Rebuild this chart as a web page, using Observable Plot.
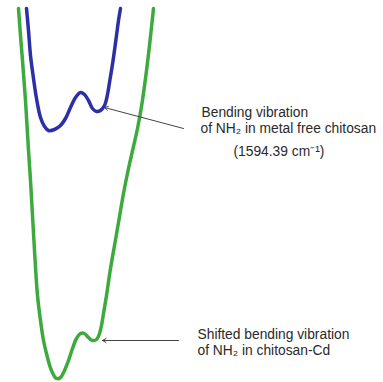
<!DOCTYPE html>
<html>
<head>
<meta charset="utf-8">
<script src="https://cdn.jsdelivr.net/npm/d3@7"></script>
<script src="https://cdn.jsdelivr.net/npm/@observablehq/plot@0.6"></script>
<style>
  html, body { margin: 0; padding: 0; background: #fff; }
</style>
</head>
<body>
<div id="chart"></div>
<script>
// Metal-free chitosan (blue) trace: x, y readings (chart units, y grows downward)
const blueX = [26, 28, 30, 33, 36, 40, 44, 48, 54, 60, 65, 70, 75, 80, 84, 88, 92, 96, 100, 104, 107, 109, 111, 113, 116, 118, 120];
const blueY = [8, 30, 55, 78, 98, 117, 126, 130, 129, 125, 118, 107, 97, 92, 94, 100, 108, 111, 110, 105, 94, 82, 70, 57, 35, 20, 8];

// Chitosan-Cd (green) trace
const greenX = [18, 20, 22, 25, 28, 30, 32, 34, 37, 40, 43, 47, 51, 56, 60, 64, 68, 72, 76, 80, 84, 88, 92, 96, 99, 101, 103, 106, 110, 114, 118, 123, 128, 133, 137, 141, 145, 149, 153];
const greenY = [8, 35, 60, 100, 150, 180, 215, 250, 295, 320, 340, 357, 370, 378, 377, 370, 360, 348, 338, 333, 333, 337, 340, 339, 333, 325, 313, 295, 268, 245, 222, 193, 168, 146, 128, 106, 78, 45, 8];

// Annotation arrows (from label to peak)
const arrowX1 = [183, 178];
const arrowY1 = [128, 340];
const arrowX2 = [104, 102];
const arrowY2 = [107, 340];

// Annotation text lines
const labelText = [
  "Bending vibration",
  "of NH\u2082 in metal free chitosan",
  "(1594.39 cm\u207B\u00B9)",
  "Shifted bending vibration",
  "of NH\u2082 in chitosan-Cd"
];
const labelX = [201, 200, 233, 197, 197];
const labelY = [112, 128, 151, 334, 350];

const blue = blueX.map((x, i) => ({x, y: blueY[i]}));
const green = greenX.map((x, i) => ({x, y: greenY[i]}));
const arrows = arrowX1.map((x1, i) => ({x1, y1: arrowY1[i], x2: arrowX2[i], y2: arrowY2[i]}));
const labels = labelText.map((t, i) => ({t, x: labelX[i], y: labelY[i]}));

const chart = Plot.plot({
  width: 383,
  height: 382,
  margin: 0,
  style: {background: "#fff", fontFamily: "'Liberation Sans', Arial, sans-serif"},
  x: {domain: [0, 383], axis: null},
  y: {domain: [0, 382], reverse: true, axis: null},
  marks: [
    Plot.line(green, {x: "x", y: "y", stroke: "#3daa3d", strokeWidth: 3.5, curve: "catmull-rom"}),
    Plot.line(blue, {x: "x", y: "y", stroke: "#2c2fa6", strokeWidth: 3.5, curve: "catmull-rom"}),
    Plot.arrow(arrows, {x1: "x1", y1: "y1", x2: "x2", y2: "y2", stroke: "#444", strokeWidth: 1, headLength: 6, bend: 0}),
    Plot.text(labels, {x: "x", y: "y", text: "t", textAnchor: "start", fontSize: 13.8, fill: "#2a2a2a"})
  ]
});
document.getElementById("chart").appendChild(chart);
</script>
</body>
</html>
